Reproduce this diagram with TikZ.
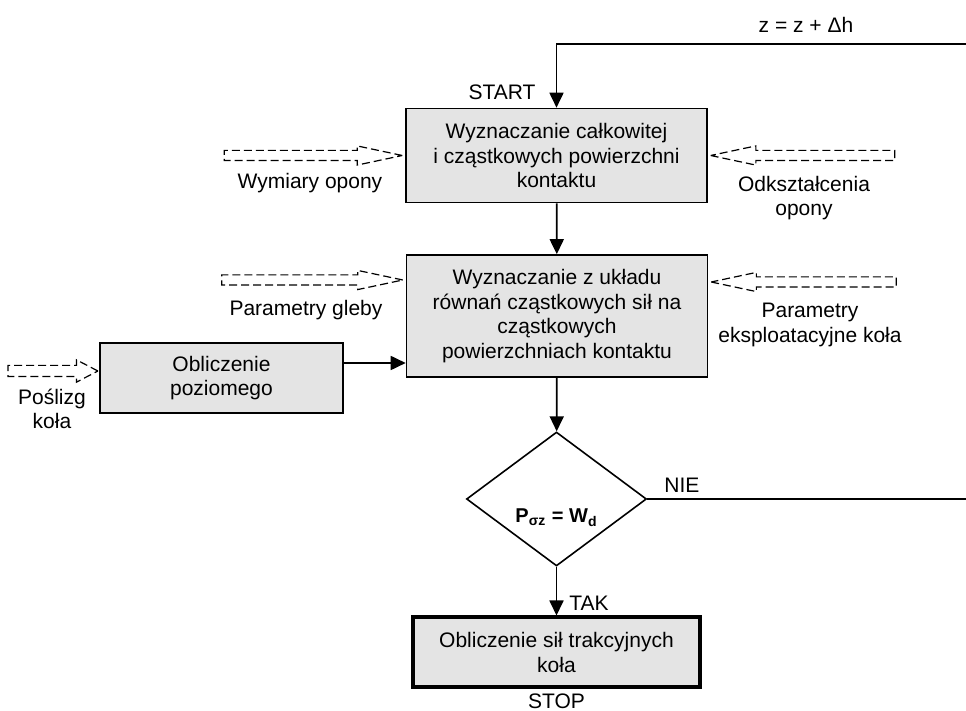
\documentclass[tikz,border=0pt]{standalone}
\usepackage{fontspec}
\setmainfont{Liberation Sans}
\usepackage{tikz}
\usetikzlibrary{positioning,%
  shapes.geometric,%
  shapes.arrows,%
  arrows.meta,%
  calc}
\definecolor{boxfill}{RGB}{228,228,228}
\tikzset{
  block/.style={draw, line width=0.8pt, fill=boxfill, align=center,
    inner sep=2pt, minimum width=150.5pt, minimum height=47pt},
  decision/.style={diamond, draw, line width=0.8pt, inner sep=0pt,
    minimum width=90pt, minimum height=67pt, font=\bfseries},
  feed/.style={draw, line width=0.6pt, dash pattern=on 4pt off 2pt,
    single arrow, inner xsep=0pt, inner ysep=2.25pt,
    single arrow head extend=2.25pt, single arrow tip angle=24},
  flow/.style={line width=0.9pt, -{Triangle[length=7.5pt,width=7pt]}},
  lbl/.style={align=center, inner sep=0pt}
}

\begin{document}
\begin{tikzpicture}[x=0.5pt, y=-0.5pt, font=\fontsize{10.5pt}{12.2pt}\selectfont]
    \useasboundingbox (0,0) rectangle (966,711);

    % main blocks
    \node[block] (box1) at (556.5,155.5) {Wyznaczanie całkowitej\\i cząstkowych powierzchni\\kontaktu};
    \node[block, minimum height=61pt] (box2) at (557,316) {Wyznaczanie z układu\\równań cząstkowych sił na\\cząstkowych\\powierzchniach kontaktu};
    \node[block, minimum width=121.5pt, minimum height=35pt] (box3) at (221.5,378) {Obliczenie\\poziomego};
    \node[decision] (cond) at (556.5,499) {\raisebox{-12pt}[0pt][0pt]{P\textsubscript{σz} = W\textsubscript{d}}};
    \node[block, line width=2pt, minimum width=143.5pt, minimum height=35pt] (box4) at (556.5,652.5) {Obliczenie sił trakcyjnych\\koła};
    \coordinate (back) at (967,44);

    % inputs
    \node[feed, minimum height=89pt, anchor=tip] (in1) at (box1.west) {};
    \node[feed, minimum height=92pt, anchor=tip, shape border rotate=180] (in2) at (box1.east) {};
    \node[feed, minimum height=90.5pt, anchor=tip] (in3) at ([yshift=18pt]box2.west) {};
    \node[feed, minimum height=92.5pt, anchor=tip, shape border rotate=180] (in4) at ([yshift=17pt]box2.east) {};
    \node[feed, minimum height=45pt, inner ysep=2.5pt, single arrow head extend=2.75pt,
      single arrow tip angle=55, anchor=tip] (in5) at ([yshift=3.5pt]box3.west) {};

    % labels
    \node[lbl] (t1) at (310,183) {Wymiary opony};
    \node[lbl] (t2) at (804,198) {Odkształcenia\\opony};
    \node[lbl] (t3) at (306,310) {Parametry gleby};
    \node[lbl] (t4) at (810,325) {Parametry\\eksploatacyjne koła};
    \node[lbl] (t5) at (52,409) {Poślizg\\koła};
    \node[lbl] (start) at (502,92) {START};
    \node[lbl] (stop) at (556.5,701) {STOP};
    \node[lbl] (yes) at (589,603) {TAK};
    \node[lbl] (no) at (682,485) {NIE};
    \node[lbl] (step) at (806,25) {z = z + Δh};

    % connectors
    \draw[flow] (box1) -- (box2);
    \draw[flow] (box2) -- (cond);
    \draw[flow] (cond) -- (box4);
    \draw[flow] ([yshift=7.5pt]box3.east) -- ([yshift=7.5pt]box3.east -| box2.west);
    \draw[flow] (cond.east) -| (back) -| (box1.north);
\end{tikzpicture}
\end{document}
